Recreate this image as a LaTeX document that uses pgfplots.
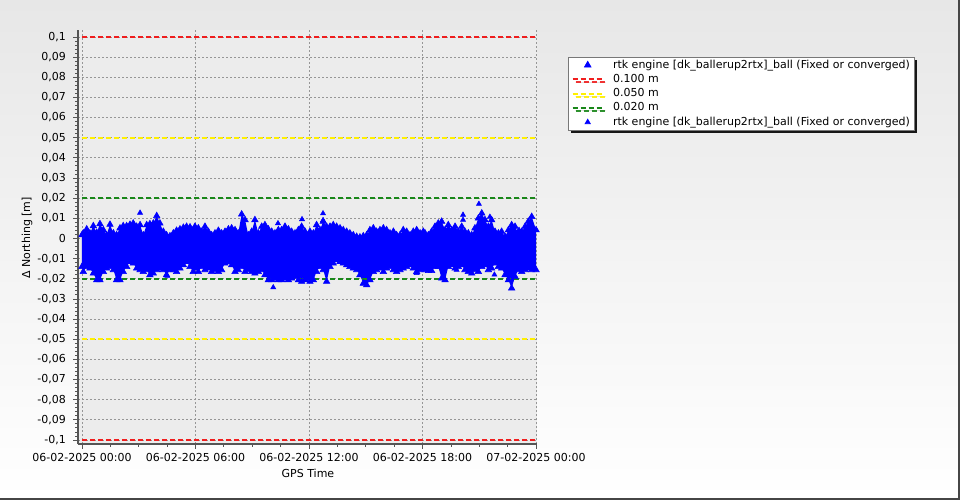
\documentclass[border=0pt]{standalone}
\usepackage{fontspec}
\setmainfont{DejaVu Sans}
\usepackage{pgfplots}
\pgfplotsset{compat=1.18}
\usepackage{pgfplotstable}
\usepgfplotslibrary{fillbetween}
\usetikzlibrary{shadows}

\definecolor{plotbg}{RGB}{236,236,236}
\definecolor{bgtop}{RGB}{231,231,231}
\definecolor{spine}{RGB}{85,85,85}
\definecolor{gridc}{RGB}{150,150,150}
\definecolor{lim100}{RGB}{240,30,30}
\definecolor{lim050}{RGB}{255,240,0}
\definecolor{lim020}{RGB}{25,135,25}

% extra bottom layer for the window background
\pgfplotsset{
  layers/withbg/.define layer set={figbg,axis background,axis grid,axis ticks,axis lines,axis tick labels,pre main,main,axis descriptions,axis foreground}{/pgfplots/layers/standard},
}

% hours since 06-02-2025 00:00, envelope of delta northing in mm
\pgfplotstableread{
h hi lo
0.00 1.7 -14.0
0.07 2.6 -16.5
0.25 4.6 -14.0
0.42 2.6 -14.8
0.60 6.2 -17.3
0.78 2.9 -20.6
0.95 7.2 -20.6
1.13 4.2 -16.5
1.30 1.7 -14.8
1.48 6.9 -14.0
1.66 2.6 -15.6
1.83 1.7 -20.6
2.01 5.1 -20.6
2.18 6.2 -16.5
2.36 6.2 -14.0
2.54 6.9 -11.5
2.71 7.5 -12.3
2.89 5.9 -14.8
3.07 6.7 -15.6
3.24 1.7 -16.5
3.42 6.7 -15.6
3.59 7.2 -18.1
3.77 7.5 -17.3
3.95 11.2 -15.6
4.12 7.5 -14.8
4.30 3.4 -15.6
4.47 1.7 -18.1
4.65 1.2 -15.6
4.83 2.6 -15.6
5.00 3.9 -16.5
5.18 4.6 -14.8
5.36 5.4 -13.2
5.53 5.9 -11.5
5.71 5.6 -14.0
5.88 4.2 -16.5
5.97 5.9 -14.8
6.15 5.1 -16.5
6.33 3.4 -14.0
6.50 5.9 -15.6
6.68 3.4 -14.8
6.85 1.7 -16.5
7.03 2.6 -15.6
7.21 3.9 -16.5
7.38 2.6 -15.6
7.56 3.4 -12.3
7.74 4.6 -11.5
7.91 5.1 -13.2
8.09 4.2 -16.5
8.26 2.6 -15.6
8.44 12.0 -14.0
8.62 9.2 -16.5
8.79 1.7 -15.6
8.97 3.4 -16.5
9.14 9.2 -17.3
9.32 2.6 -16.5
9.50 5.9 -15.6
9.67 6.7 -18.1
9.85 4.6 -20.6
10.03 3.4 -20.6
10.20 2.6 -19.8
10.38 4.2 -20.6
10.55 4.2 -20.6
10.73 5.9 -19.8
10.91 4.6 -20.6
11.08 3.4 -19.8
11.26 2.6 -18.9
11.44 4.2 -20.6
11.61 5.9 -21.4
11.79 3.4 -20.6
11.96 1.7 -19.8
12.05 3.4 -21.4
12.23 2.6 -20.6
12.40 6.7 -16.5
12.58 4.2 -14.0
12.75 8.4 -15.6
12.93 5.9 -21.4
13.11 5.9 -14.0
13.28 6.7 -12.3
13.46 5.9 -10.7
13.64 5.1 -11.5
13.81 4.2 -12.3
13.99 3.4 -13.2
14.16 2.6 -14.0
14.34 1.7 -14.8
14.52 0.9 -15.6
14.69 0.6 -18.1
14.87 1.2 -22.3
15.05 1.7 -23.1
15.22 4.2 -20.6
15.40 5.1 -16.5
15.57 3.4 -15.6
15.75 4.2 -14.8
15.93 5.1 -16.5
16.10 4.2 -14.8
16.28 2.6 -14.0
16.46 3.4 -15.6
16.63 1.7 -16.5
16.81 1.7 -15.6
16.98 4.2 -14.8
17.16 3.4 -14.0
17.34 1.7 -13.2
17.51 3.4 -14.8
17.69 4.2 -16.5
17.87 2.6 -15.6
18.04 3.4 -14.8
18.13 2.6 -15.6
18.31 1.7 -16.0
18.48 3.4 -16.0
18.66 5.9 -14.0
18.83 7.5 -14.0
19.01 8.4 -19.8
19.19 4.2 -20.6
19.36 6.7 -14.0
19.54 4.2 -13.2
19.72 5.9 -14.8
19.89 3.4 -14.0
20.07 5.9 -13.2
20.24 3.4 -15.6
20.42 2.6 -16.5
20.60 1.7 -17.3
20.77 5.1 -15.6
20.95 10.0 -16.5
21.13 12.5 -14.0
21.30 9.2 -13.2
21.48 5.9 -15.6
21.65 9.2 -14.8
21.83 3.4 -12.3
22.01 2.6 -14.0
22.18 3.4 -14.8
22.36 0.9 -18.1
22.54 4.2 -20.6
22.71 6.7 -24.7
22.89 5.9 -18.9
23.06 2.6 -15.6
23.24 3.4 -16.5
23.42 5.9 -15.6
23.59 8.4 -14.8
23.77 10.8 -15.6
24.00 4.2 -15.6
}\envelope

\pgfplotstableread{
h v
3.07 12.7
4.51 -18.6
10.11 -24.3
10.36 7.5
11.63 9.5
12.74 12.4
12.74 9.0
17.69 -17.2
19.80 -15.6
20.14 11.7
20.14 9.2
20.98 17.1
21.56 10.7
21.80 -18.0
23.10 4.2
}\outliers

\begin{document}
\begin{tikzpicture}[font=\fontsize{8.25}{10}\selectfont]
\begin{axis}[
  set layers=withbg,
  clip=false,
  scale only axis,
  width=344.25pt, height=310.6pt,
  xmin=-0.21, xmax=24.05,
  ymin=-102, ymax=103.5,
  axis x line*=bottom, axis y line*=left,
  axis line style={spine, line width=2pt, -},
  axis background/.style={fill=plotbg},
  xtick={0,6,12,18,24},
  xticklabels={06-02-2025 00:00,06-02-2025 06:00,06-02-2025 12:00,06-02-2025 18:00,07-02-2025 00:00},
  minor x tick num=3,
  ytick={-100,-90,...,100},
  yticklabels={{-0,1},{-0,09},{-0,08},{-0,07},{-0,06},{-0,05},{-0,04},{-0,03},{-0,02},{-0,01},{0},{0,01},{0,02},{0,03},{0,04},{0,05},{0,06},{0,07},{0,08},{0,09},{0,1}},
  minor y tick num=4,
  tick align=outside,
  major tick length=3.5pt, minor tick length=2pt,
  tick style={spine, line width=0.6pt},
  tick label style={font=\fontsize{8.25}{10}\selectfont},
  yticklabel style={xshift=-2pt},
  grid=major,
  major grid style={gridc, line width=0.6pt, dash pattern=on 1.5pt off 1.5pt},
  xlabel={GPS Time},
  ylabel={Δ Northing [m]},
  label style={font=\fontsize{8.25}{10}\selectfont},
  xlabel style={at={(axis description cs:0.501,-0.070)}, anchor=center},
  ylabel style={at={(axis description cs:-0.111,0.4975)}, anchor=center},
  legend cell align=left,
  legend image code/.code={\draw[mark repeat=2,mark phase=2,#1] plot coordinates {(0pt,0pt) (11.25pt,0pt) (22.5pt,0pt)};},
  legend style={at={(1.0675,0.9346)}, anchor=north west,
    draw={rgb,255:red,120;green,120;blue,120}, fill=white, line width=0.6pt,
    font=\fontsize{8.25}{10}\selectfont,
    inner xsep=2.5pt, inner ysep=0.5pt, row sep=0pt, column sep=6pt,
    nodes={inner sep=1pt, text height=6.6pt, text depth=2.1pt},
    drop shadow={shadow xshift=2.2pt, shadow yshift=-2.2pt, fill=black, opacity=0.9}},
]
\begin{pgfonlayer}{figbg}
  \shade[top color=bgtop, bottom color=white] (axis description cs:-0.1699,-0.13523) rectangle (axis description cs:1.9216,1.0721);
  \draw[line width=1.2pt, gray!55!black] (axis description cs:-0.1699,-0.1333) -- (axis description cs:1.9199,-0.1333) -- (axis description cs:1.9199,1.0721);
\end{pgfonlayer}

\addplot[draw=none, name path=hi, forget plot] table[x=h, y=hi] {\envelope};
\addplot[draw=none, name path=lo, forget plot] table[x=h, y=lo] {\envelope};
\addplot[blue, forget plot] fill between[of=hi and lo];
\addplot[only marks, mark=triangle*, mark size=2.8pt, color=blue] table[x=h, y=hi] {\envelope};
\addlegendentry{rtk engine [dk\_ballerup2rtx]\_ball (Fixed or converged)}
\addplot[only marks, mark=triangle*, mark size=2.8pt, color=blue, forget plot] table[x=h, y=lo] {\envelope};

\addplot[lim100, line width=1.5pt, dash pattern=on 4pt off 2pt] coordinates {(0,100) (24,100)};
\addlegendentry{0.100 m}
\addplot[lim050, line width=1.5pt, dash pattern=on 4pt off 2pt] coordinates {(0,50) (24,50)};
\addlegendentry{0.050 m}
\addplot[lim020, line width=1.5pt, dash pattern=on 4pt off 2pt] coordinates {(0,20) (24,20)};
\addlegendentry{0.020 m}
\addplot[lim100, line width=1.5pt, dash pattern=on 4pt off 2pt, forget plot] coordinates {(0,-100) (24,-100)};
\addplot[lim050, line width=1.5pt, dash pattern=on 4pt off 2pt, forget plot] coordinates {(0,-50) (24,-50)};
\addplot[lim020, line width=1.5pt, dash pattern=on 4pt off 2pt, forget plot] coordinates {(0,-20) (24,-20)};

\addplot[only marks, mark=triangle*, mark size=2.2pt, color=blue] table[x=h, y=v] {\outliers};
\addlegendentry{rtk engine [dk\_ballerup2rtx]\_ball (Fixed or converged)}
\end{axis}
\pgfresetboundingbox
\path (-58.5pt,-42pt) rectangle (661.5pt,333pt);
\end{tikzpicture}
\end{document}
